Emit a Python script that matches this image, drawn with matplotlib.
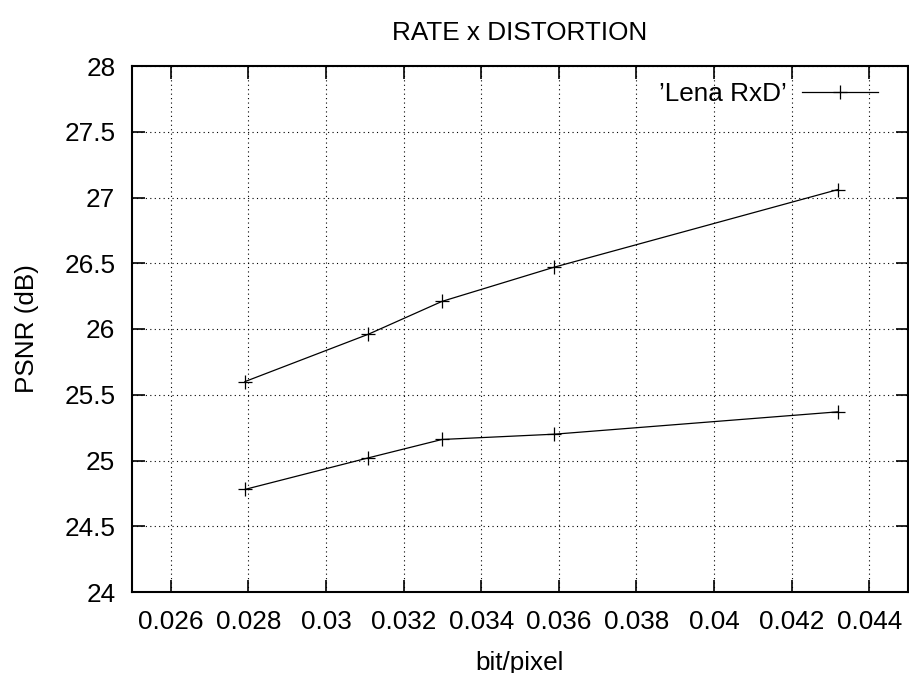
import numpy as np
import matplotlib.pyplot as plt

plt.rcParams['font.family'] = ['Liberation Sans', 'DejaVu Sans']

# rate (bit/pixel) and PSNR (dB), two data blocks of the same file
rate = [0.02791, 0.03109, 0.03299, 0.03588, 0.04319]
psnr_high = [25.60, 25.96, 26.21, 26.47, 27.06]
psnr_low = [24.78, 25.02, 25.16, 25.20, 25.37]

xticks = [0.026, 0.028, 0.03, 0.032, 0.034, 0.036, 0.038, 0.04, 0.042, 0.044]
xticklabels = ['0.026', '0.028', '0.03', '0.032', '0.034', '0.036', '0.038', '0.04', '0.042', '0.044']
yticks = [24, 24.5, 25, 25.5, 26, 26.5, 27, 27.5, 28]
yticklabels = ['24', '24.5', '25', '25.5', '26', '26.5', '27', '27.5', '28']

fs = 18.8

fig = plt.figure(figsize=(9.09, 6.73), dpi=100)
ax = fig.add_axes([132 / 909, 1 - 592 / 673, 776 / 909, 526 / 673])

style = dict(color='black', lw=0.9, marker='+', markersize=10, markeredgewidth=0.9)
ax.plot(rate, psnr_high, label="\u2019Lena RxD\u2019", **style)
ax.plot(rate, psnr_low, **style)

ax.set_xlim(0.025, 0.045)
ax.set_ylim(24, 28)
ax.set_xticks(xticks)
ax.set_xticklabels(xticklabels)
ax.set_yticks(yticks)
ax.set_yticklabels(yticklabels)

ax.grid(True, color='black', linestyle=(0, (1, 3)), linewidth=0.8)
ax.tick_params(direction='in', length=9, width=1.2, top=True, right=True,
               labelsize=fs, pad=13)
ax.tick_params(axis='y', pad=12)
for s in ax.spines.values():
    s.set_linewidth(1.5)

ax.set_title('RATE x DISTORTION', fontsize=fs, pad=19)
ax.set_xlabel('bit/pixel', fontsize=fs, labelpad=12)
ax.set_ylabel('PSNR (dB)', fontsize=fs, labelpad=18)

ax.legend(loc='upper right', bbox_to_anchor=(0.975, 0.99), frameon=False,
          markerfirst=False, fontsize=fs, handlelength=2.9, borderaxespad=0,
          handletextpad=0.6)

fig.savefig('out.png', dpi=100)
